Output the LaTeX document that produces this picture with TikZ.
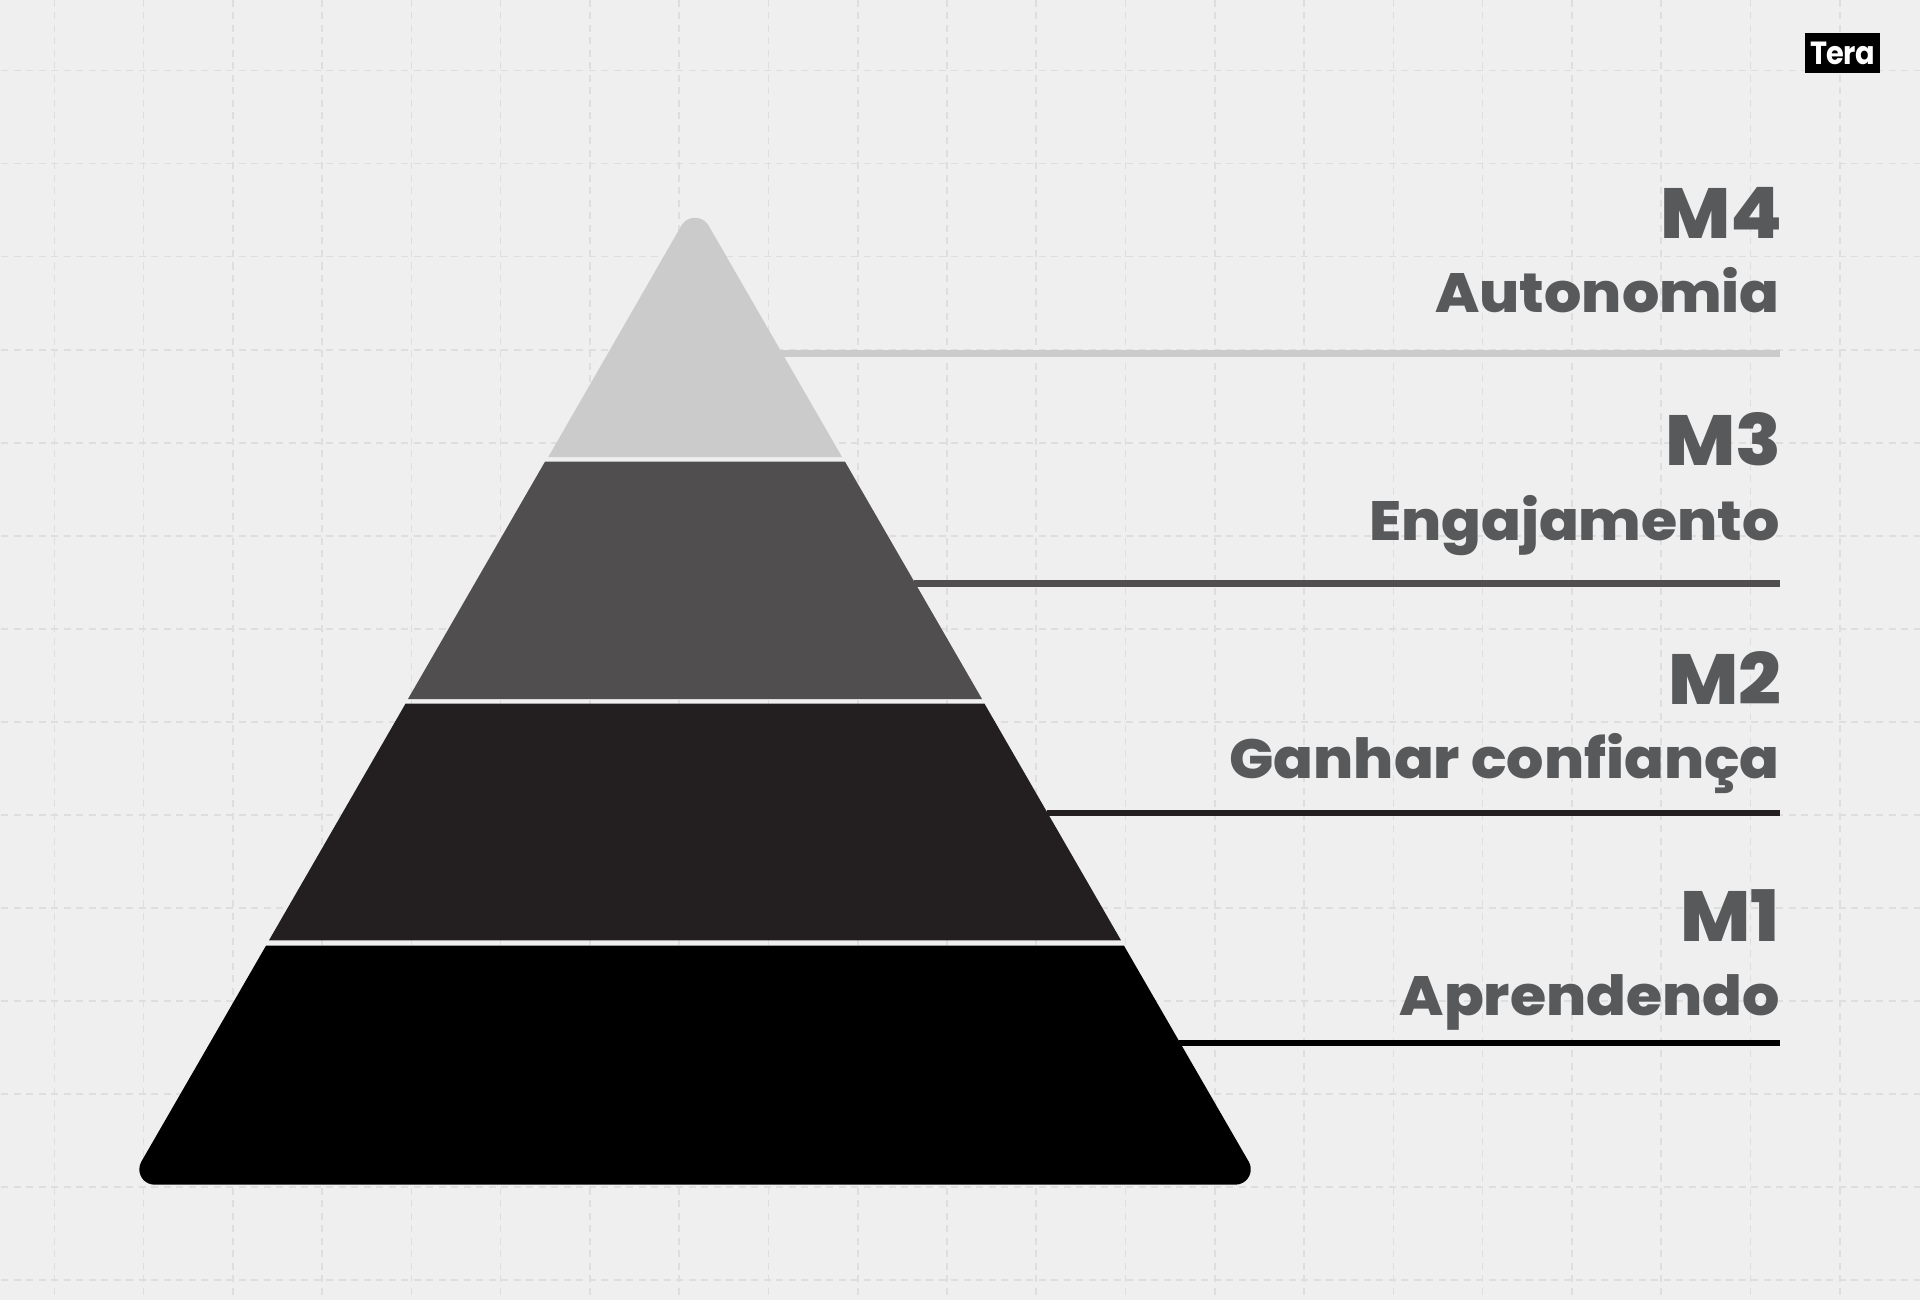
\documentclass[tikz,border=0pt]{standalone}
\usepackage{fontspec}
\usepackage{xcolor}
\setmainfont{Poppins}
\newfontfamily\headfont[FakeStretch=1.06]{Poppins ExtraBold}
\newfontfamily\logofont[FakeStretch=0.9,LetterSpace=-2.5]{Poppins Bold}
\definecolor{pagebg}{HTML}{EFEFEF}
\definecolor{gridgray}{HTML}{DEDEDE}
\definecolor{labelgray}{HTML}{58595B}
\definecolor{levelfour}{HTML}{CBCBCB}
\definecolor{levelthree}{HTML}{514E4F}
\definecolor{levelbtwo}{HTML}{231F20}
\definecolor{levelone}{HTML}{000000}
\usetikzlibrary{positioning,calc}

\begin{document}
\begin{tikzpicture}[
    x=1pt, y=-1pt,
    gridline/.style={gridgray, line width=1.6pt, dash pattern=on 7pt off 5.5pt},
    level/.style={line width=6.5pt},
    codelabel/.style={anchor=base east, inner sep=0pt, text=labelgray, font=\headfont\fontsize{71}{71}\selectfont},
    namelabel/.style={anchor=base east, inner sep=0pt, text=labelgray, font=\headfont\fontsize{55.3}{55.3}\selectfont}
]
    \useasboundingbox (0,0) rectangle (1920,1300);
    \fill[pagebg] (0,0) rectangle (1920,1300);

    % dashed grid
    \foreach \gx in {0,...,20} {
        \draw[gridline] (54.3+89.27*\gx,0) -- (54.3+89.27*\gx,1300);
    }
    \foreach \gy in {0,...,13} {
        \draw[gridline] (1,70.7+93*\gy) -- (1920,70.7+93*\gy);
    }

    % pyramid
    \fill[levelfour] (548.3,457) -- (681.4,225.6) arc[start angle=150, end angle=30, radius=15.7pt] -- (842,457) -- cycle;
    \fill[levelthree] (545,461.7) -- (845,461.7) -- (982,699) -- (408,699) -- cycle;
    \fill[levelbtwo] (405.5,703.7) -- (984.5,703.7) -- (1121,940.3) -- (269,940.3) -- cycle;
    \fill[levelone] (266,945.7) -- (1124,945.7) -- (1248.7,1161.6) arc[start angle=30, end angle=-90, radius=15.4pt] -- (154.7,1184.7) arc[start angle=270, end angle=150, radius=15.4pt] -- cycle;

    % level labels
    \node[codelabel] (mfour) at (1783,238.3) {M4};
    \node[namelabel] (autonomia) at (1780,312.7) {Autonomia};
    \node[codelabel] (mthree) at (1782,465.7) {M3};
    \node[namelabel] (engajamento) at (1780,540) {Engajamento};
    \node[codelabel] (mtwo) at (1782,704) {M2};
    \node[namelabel] (ganhar) at (1780,778.3) {Ganhar confiança};
    \node[codelabel] (mone) at (1780,941) {M1};
    \node[namelabel] (aprendendo) at (1780,1015.7) {Aprendendo};

    % leader lines
    \coordinate (fourin) at (781,353.7);
    \coordinate (fourout) at (1780,353.7);
    \coordinate (threein) at (914,583.3);
    \coordinate (threeout) at (1780,583.3);
    \coordinate (twoin) at (1047,813);
    \coordinate (twoout) at (1780,813);
    \coordinate (onein) at (1179,1043);
    \coordinate (oneout) at (1780,1043);
    \draw[level, levelfour] (fourin) -- (fourout);
    \draw[level, levelthree] (threein) -- (threeout);
    \draw[level, levelbtwo] (twoin) -- (twoout);
    \draw[level, levelone] (onein) -- (oneout);

    % logo
    \node[fill=black, text=white, minimum width=75pt, minimum height=39.7pt, inner sep=0pt, font=\logofont\fontsize{32}{32}\selectfont] (logo) at (1842.5,53) {Tera};
\end{tikzpicture}
\end{document}
